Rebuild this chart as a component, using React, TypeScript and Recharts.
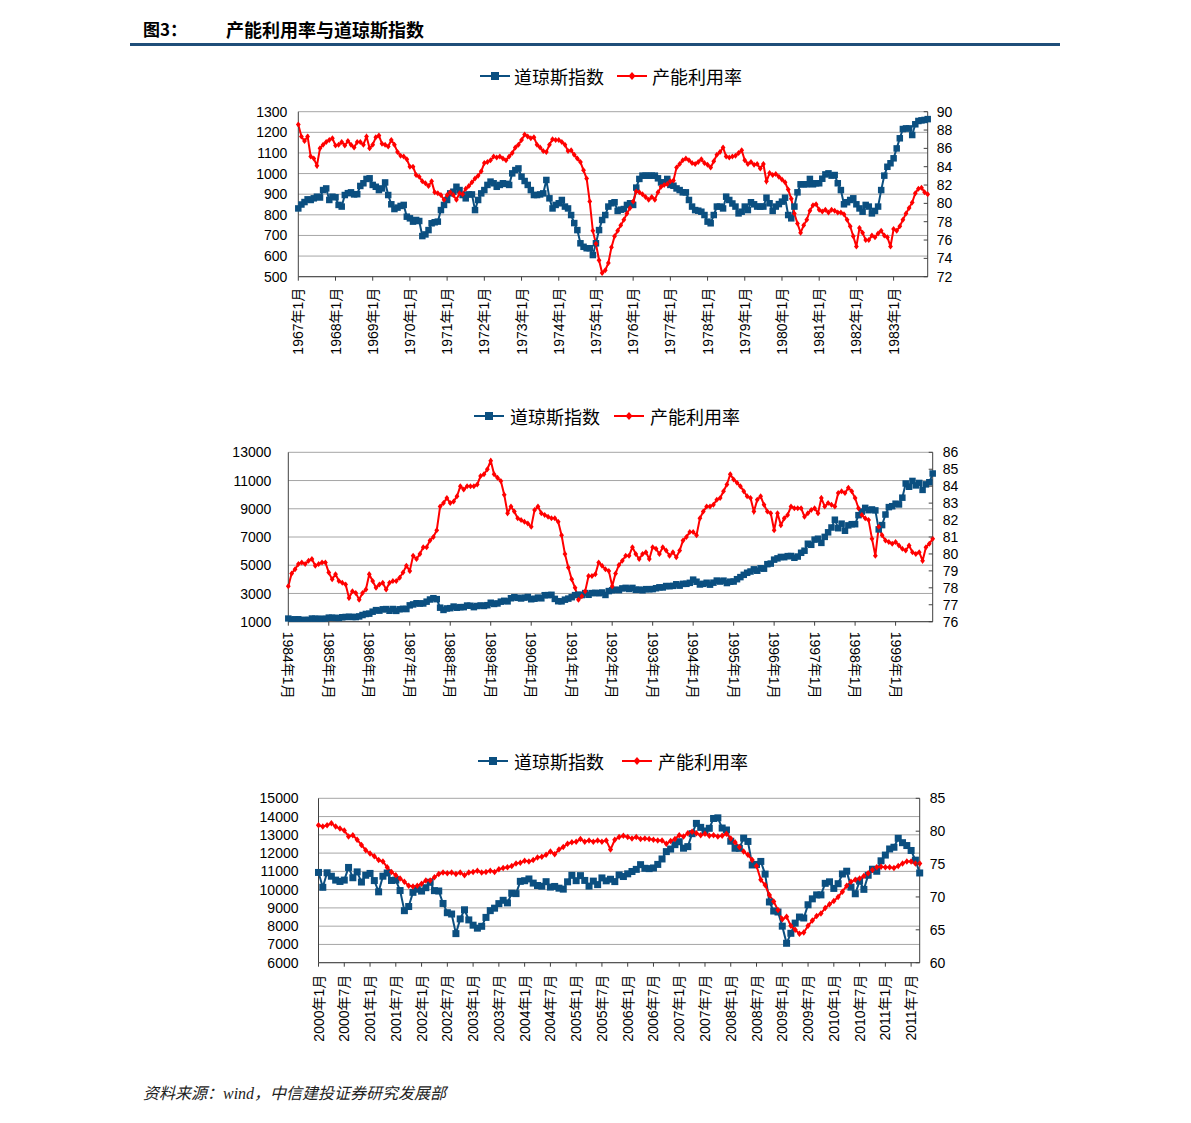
import React from 'react';
import { LineChart, Line, XAxis, YAxis, CartesianGrid } from 'recharts';

const BLUE = '#0B4F80';
const RED = '#FF0000';
const AXIS = '#404040';
const GRID = '#A6A6A6';
const NUM_FONT = "'Liberation Sans', Arial, 'Noto Sans CJK SC', sans-serif";
const CJK_FONT = "'Noto Sans CJK SC', 'Liberation Sans', sans-serif";

// ---------- Panel 1: 1967-01 .. 1983-12 ----------
const djia1967 = [
  831, 850, 862, 875, 872, 880, 888, 884, 920, 928, 872, 888,
  885, 848, 840, 896, 905, 909, 899, 900, 940, 953, 974, 977,
  945, 936, 920, 928, 957, 896, 851, 828, 835, 843, 848, 791,
  783, 767, 775, 770, 697, 705, 726, 759, 764, 767, 823, 848,
  872, 904, 912, 936, 920, 896, 880, 899, 899, 823, 872, 904,
  920, 945, 961, 953, 936, 945, 953, 950, 945, 1001, 1017, 1025,
  985, 964, 945, 920, 896, 896, 899, 904, 969, 880, 831, 848,
  856, 872, 840, 831, 799, 760, 726, 662, 645, 638, 638, 605,
  662, 726, 775, 799, 840, 856, 861, 819, 825, 828, 848, 856,
  848, 932, 974, 990, 990, 990, 990, 990, 977, 957, 957, 974,
  945, 941, 928, 920, 909, 909, 872, 840, 823, 820, 815, 799,
  767, 759, 799, 840, 840, 831, 888, 872, 855, 840, 807, 815,
  840, 823, 861, 851, 840, 840, 840, 883, 856, 819, 840, 852,
  864, 883, 799, 783, 840, 909, 948, 948, 948, 974, 948, 953,
  953, 975, 996, 1001, 990, 993, 953, 920, 851, 861, 872, 880,
  851, 831, 815, 848, 840, 807, 819, 840, 920, 990, 1033, 1050,
  1074, 1122, 1171, 1216, 1219, 1219, 1187, 1239, 1255, 1258, 1260, 1264,
];
const cu1967 = [
  88.6, 87.3, 86.8, 87.3, 85.1, 84.9, 84.1, 86.0, 86.4, 86.7, 86.9, 87.1,
  86.3, 86.4, 86.7, 86.3, 86.8, 86.4, 86.1, 86.7, 86.7, 86.4, 87.3, 86.0,
  86.4, 87.2, 87.4, 86.5, 86.4, 86.2, 86.9, 86.4, 85.6, 85.2, 85.1, 84.8,
  84.0, 84.0, 83.1, 82.9, 82.4, 82.2, 81.9, 82.4, 81.2, 81.1, 80.9, 80.4,
  80.9, 81.2, 80.9, 80.4, 81.1, 81.0, 81.6, 81.9, 82.3, 82.7, 83.0, 83.5,
  84.4, 84.5, 84.7, 85.1, 85.0, 85.1, 84.9, 84.7, 85.1, 85.5, 86.1, 86.4,
  86.9, 87.5, 87.3, 87.1, 87.2, 86.4, 86.1, 85.7, 85.6, 86.4, 87.0, 86.9,
  86.9, 86.7, 86.4, 85.7, 85.8, 85.3, 84.9, 84.5, 83.6, 82.7, 80.2, 77.0,
  75.6, 73.8, 72.4, 72.7, 73.5, 75.2, 76.4, 77.0, 77.6, 78.2, 78.9, 79.5,
  80.2, 81.3, 81.2, 81.0, 80.7, 80.4, 80.7, 80.4, 81.2, 81.8, 82.0, 82.1,
  82.4, 82.5, 83.9, 84.3, 84.7, 84.9, 84.7, 84.4, 84.3, 84.5, 84.8, 84.4,
  84.2, 83.9, 84.6, 85.3, 85.6, 86.1, 85.1, 85.0, 85.1, 85.2, 85.5, 85.8,
  84.7, 84.3, 84.5, 84.2, 84.3, 83.8, 84.3, 82.4, 83.3, 83.1, 83.2, 82.9,
  82.6, 82.3, 81.5, 80.5, 78.9, 77.8, 76.8, 77.6, 78.2, 79.2, 79.8, 79.9,
  79.3, 79.1, 79.3, 79.0, 79.3, 79.2, 79.0, 79.0, 78.8, 78.2, 77.5, 76.4,
  75.3, 77.3, 76.8, 76.0, 76.0, 76.5, 76.3, 76.7, 77.0, 76.5, 76.3, 75.3,
  77.2, 77.0, 77.5, 78.2, 78.9, 79.5, 80.1, 81.1, 81.6, 81.7, 81.2, 81.0,
];
const labels1967 = [
  '1967年1月', '1968年1月', '1969年1月', '1970年1月', '1971年1月', '1972年1月',
  '1973年1月', '1974年1月', '1975年1月', '1976年1月', '1977年1月', '1978年1月',
  '1979年1月', '1980年1月', '1981年1月', '1982年1月', '1983年1月',
];
const leftTicks1 = [500, 600, 700, 800, 900, 1000, 1100, 1200, 1300];
const rightTicks1 = [72, 74, 76, 78, 80, 82, 84, 86, 88, 90];

// ---------- Panel 2: 1984-01 .. 1999-12 ----------
const djia1984 = [
  1220, 1155, 1165, 1171, 1105, 1132, 1115, 1224, 1207, 1207, 1189, 1212,
  1287, 1284, 1267, 1258, 1315, 1335, 1347, 1334, 1329, 1374, 1472, 1547,
  1571, 1709, 1819, 1784, 1877, 1893, 1775, 1898, 1768, 1878, 1914, 1896,
  2158, 2224, 2305, 2286, 2292, 2419, 2572, 2663, 2596, 1994, 1834, 1939,
  1958, 2072, 1988, 2032, 2031, 2142, 2129, 2032, 2113, 2149, 2115, 2169,
  2342, 2258, 2294, 2419, 2480, 2440, 2661, 2737, 2693, 2645, 2706, 2753,
  2591, 2627, 2707, 2657, 2877, 2881, 2905, 2615, 2453, 2442, 2560, 2634,
  2736, 2882, 2914, 2888, 3028, 2907, 3025, 3044, 3017, 3069, 2895, 3169,
  3224, 3267, 3236, 3359, 3397, 3319, 3394, 3257, 3272, 3226, 3305, 3301,
  3310, 3371, 3436, 3428, 3527, 3516, 3540, 3651, 3555, 3681, 3684, 3754,
  3978, 3832, 3636, 3682, 3758, 3625, 3765, 3913, 3843, 3908, 3739, 3834,
  3844, 4011, 4158, 4321, 4465, 4556, 4709, 4611, 4789, 4756, 5075, 5117,
  5395, 5486, 5588, 5569, 5644, 5655, 5529, 5616, 5882, 6029, 6522, 6448,
  6813, 6878, 6584, 7009, 7331, 7673, 8223, 7622, 7945, 7442, 7823, 7908,
  7907, 8546, 8800, 9063, 8900, 8952, 8883, 7539, 7843, 8592, 9117, 9181,
  9359, 9307, 9786, 10789, 10560, 10971, 10655, 10829, 10337, 10729, 10878, 11497,
];
const cu1984 = [
  78.1, 78.85, 79.1, 79.4, 79.5, 79.4, 79.6, 79.7, 79.3, 79.4, 79.5, 79.5,
  78.9, 78.5, 78.8, 78.4, 78.3, 78.2, 77.4, 77.8, 77.7, 77.3, 77.7, 77.9,
  78.8, 78.4, 78.0, 78.2, 78.3, 77.9, 78.3, 78.4, 78.4, 78.6, 78.9, 79.3,
  79.0, 79.9, 79.7, 80.0, 80.4, 80.4, 80.8, 81.0, 81.4, 82.8, 83.0, 83.3,
  83.0, 83.1, 83.4, 84.0, 83.8, 84.0, 84.0, 84.0, 84.1, 84.6, 84.7, 85.0,
  85.5, 84.7, 84.5, 84.3, 83.5, 82.4, 82.8, 82.5, 82.1, 82.0, 81.9, 81.8,
  81.6, 82.6, 82.8, 82.4, 82.3, 82.2, 82.1, 82.1, 81.9, 81.1, 80.0, 79.2,
  78.5, 78.0, 77.3, 77.5, 77.8, 78.7, 78.7, 78.8, 79.5, 79.3, 79.1, 79.0,
  78.1, 78.85, 79.35, 79.6, 79.9, 79.9, 80.4, 80.0, 79.7, 80.0, 80.1, 79.7,
  80.4, 80.3, 80.0, 80.4, 80.2, 79.9, 80.1, 79.8, 80.2, 80.8, 81.0, 81.3,
  81.3, 81.1, 82.1, 82.5, 82.8, 82.8, 82.9, 83.2, 83.3, 83.7, 84.1, 84.7,
  84.4, 84.2, 84.0, 83.7, 83.4, 83.3, 82.5, 83.2, 83.4, 82.9, 82.5, 82.4,
  81.4, 82.4, 81.7, 82.1, 82.3, 82.8, 82.7, 82.7, 82.7, 82.2, 82.4, 82.6,
  82.7, 82.4, 83.3, 82.8, 83.0, 82.9, 82.8, 83.6, 83.7, 83.6, 83.9, 83.7,
  83.3, 82.7, 82.3, 82.1, 82.0, 80.9, 79.9, 81.6, 81.1, 80.8, 80.7, 80.6,
  80.7, 80.5, 80.3, 80.2, 80.5, 80.1, 80.0, 80.1, 79.6, 80.4, 80.6, 80.9,
];
const labels1984 = [
  '1984年1月', '1985年1月', '1986年1月', '1987年1月', '1988年1月', '1989年1月',
  '1990年1月', '1991年1月', '1992年1月', '1993年1月', '1994年1月', '1995年1月',
  '1996年1月', '1997年1月', '1998年1月', '1999年1月',
];
const leftTicks2 = [1000, 3000, 5000, 7000, 9000, 11000, 13000];
const rightTicks2 = [76, 77, 78, 79, 80, 81, 82, 83, 84, 85, 86];

// ---------- Panel 3: 2000-01 .. 2011-09 ----------
const djia2000 = [
  10941, 10128, 10922, 10734, 10522, 10448, 10522, 11215, 10651, 10971, 10415, 10788,
  10887, 10495, 9879, 10735, 10912, 10502, 10523, 9950, 8848, 9075, 9852, 10022,
  9920, 10106, 10404, 9946, 9925, 9243, 8737, 8664, 7592, 8397, 8896, 8342,
  8054, 7891, 7992, 8480, 8850, 8985, 9234, 9416, 9275, 9801, 9782, 10454,
  10488, 10584, 10358, 10226, 10188, 10435, 10140, 10174, 10080, 10027, 10428, 10783,
  10490, 10766, 10504, 10193, 10467, 10275, 10641, 10482, 10569, 10440, 10806, 10718,
  10865, 10993, 11109, 11367, 11168, 11150, 11186, 11381, 11679, 12081, 12222, 12463,
  12622, 12269, 12354, 13063, 13628, 13409, 13212, 13358, 13896, 13930, 13372, 13265,
  12650, 12266, 12263, 12820, 12638, 11350, 11378, 11544, 10851, 9325, 8829, 8776,
  8001, 7063, 7609, 8168, 8500, 8447, 9172, 9496, 9712, 9713, 10345, 10428,
  10067, 10325, 10857, 11009, 10137, 9774, 10466, 10015, 10788, 11118, 11006, 11578,
  11892, 12226, 12320, 12811, 12570, 12414, 12143, 11614, 10913,
];
const cu2000 = [
  80.9, 80.7, 80.9, 81.2, 80.7, 80.4, 80.1, 79.2, 79.4, 78.7, 77.9, 77.1,
  76.6, 76.2, 75.6, 75.4, 74.5, 73.8, 73.3, 72.8, 72.3, 71.7, 71.6, 71.7,
  72.0, 72.5, 72.5, 73.0, 73.5, 73.7, 73.6, 73.7, 73.5, 73.7, 73.3, 73.7,
  73.8, 74.0, 73.7, 73.8, 74.0, 73.8, 74.2, 74.4, 74.5, 74.7, 75.1, 75.2,
  75.5, 75.4, 75.6, 76.0, 76.1, 76.4, 76.9, 76.5, 77.2, 77.6, 78.1, 78.3,
  78.4, 78.8, 78.4, 78.6, 78.4, 78.6, 78.4, 78.6, 77.2, 78.7, 79.1, 79.3,
  79.1, 78.9, 79.1, 78.8, 78.9, 78.8, 78.7, 78.6, 78.6, 78.1, 78.5, 78.8,
  79.4, 79.2, 79.7, 79.9, 79.7, 79.4, 79.6, 79.3, 79.4, 79.2, 79.3, 79.6,
  78.9, 78.3, 77.6, 76.9, 76.4, 75.6, 74.7, 72.6, 71.8, 70.3, 69.3, 68.0,
  66.6, 67.0, 65.6, 65.0, 64.4, 64.6, 65.6, 66.4, 67.1, 67.5, 68.3, 68.9,
  69.4, 70.0, 70.8, 71.7, 72.3, 72.6, 72.8, 73.2, 73.6, 74.1, 74.5, 74.6,
  74.5, 74.5, 74.4, 74.7, 75.1, 75.4, 75.4, 75.1, 75.1,
];
const labels2000 = [
  '2000年1月', '2000年7月', '2001年1月', '2001年7月', '2002年1月', '2002年7月',
  '2003年1月', '2003年7月', '2004年1月', '2004年7月', '2005年1月', '2005年7月',
  '2006年1月', '2006年7月', '2007年1月', '2007年7月', '2008年1月', '2008年7月',
  '2009年1月', '2009年7月', '2010年1月', '2010年7月', '2011年1月', '2011年7月',
];
const leftTicks3 = [6000, 7000, 8000, 9000, 10000, 11000, 12000, 13000, 14000, 15000];
const rightTicks3 = [60, 65, 70, 75, 80, 85];

const SERIES_DJ = '道琼斯指数';
const SERIES_CU = '产能利用率';

type PanelCfg = {
  left: number; top: number; width: number; height: number;
  margin: { top: number; right: number; bottom: number; left: number };
  dj: number[]; cu: number[];
  leftTicks: number[]; rightTicks: number[];
  tickStep: number; labels: string[]; labelDir: 1 | -1;
  xAxisHeight: number; leftGap: number; rightGap: number; xGap: number;
  sq: number; dm: number;
};

function Panel({ cfg }: { cfg: PanelCfg }) {
  const data = cfg.dj.map((v, i) => ({ i, dj: v, cu: cfg.cu[i] }));
  const n = data.length;
  const xTicks = cfg.labels.map((_, k) => k * cfg.tickStep);
  const lt = cfg.leftTicks;
  const rt = cfg.rightTicks;

  const renderXTick = (t: any) => {
    const idx = Math.round(t.payload.value / cfg.tickStep);
    const label = cfg.labels[idx] ?? '';
    const x = t.x;
    const y = t.y;
    if (cfg.labelDir < 0) {
      return (
        <text key={`x${idx}`} x={x} y={y} transform={`rotate(-90 ${x} ${y})`} textAnchor="end" dy="0.36em"
          fontSize={14} fontFamily={NUM_FONT} fill="#000">{label}</text>
      );
    }
    return (
      <text key={`x${idx}`} x={x} y={y} transform={`rotate(90 ${x} ${y})`} textAnchor="start" dy="0.36em"
        fontSize={14} fontFamily={NUM_FONT} fill="#000">{label}</text>
    );
  };
  const renderLeftTick = (t: any) => (
    <text key={`l${t.payload.value}`} x={t.x - cfg.leftGap} y={t.y} textAnchor="end" dy="0.36em"
      fontSize={14} fontFamily={NUM_FONT} fill="#000">{t.payload.value}</text>
  );
  const renderRightTick = (t: any) => (
    <g key={`r${t.payload.value}`}>
      <line x1={t.x - 4} x2={t.x} y1={t.y} y2={t.y} stroke={AXIS} strokeWidth={1} />
      <text x={t.x + cfg.rightGap} y={t.y} textAnchor="start" dy="0.36em"
        fontSize={14} fontFamily={NUM_FONT} fill="#000">{t.payload.value}</text>
    </g>
  );
  const sqDot = (p: any) => {
    const s = cfg.sq;
    return <rect key={`s${p.index}`} x={p.cx - s / 2} y={p.cy - s / 2} width={s} height={s} fill={BLUE} />;
  };
  const dmDot = (p: any) => {
    const h = cfg.dm / 2;
    const { cx, cy } = p;
    return <path key={`d${p.index}`} d={`M${cx},${cy - h}L${cx + h * 0.8},${cy}L${cx},${cy + h}L${cx - h * 0.8},${cy}Z`} fill={RED} />;
  };

  return (
    <div style={{ position: 'absolute', left: cfg.left, top: cfg.top }}>
      <LineChart width={cfg.width} height={cfg.height} data={data} margin={cfg.margin}>
        <CartesianGrid vertical={false} yAxisId="left" stroke={GRID} strokeWidth={1} />
        <XAxis type="number" dataKey="i" domain={[0, n - 1]} ticks={xTicks} interval={0}
          height={cfg.xAxisHeight} tickSize={4} tickMargin={cfg.xGap - 4}
          tickLine={{ stroke: AXIS }} axisLine={{ stroke: AXIS }} tick={renderXTick} />
        <YAxis yAxisId="left" orientation="left" width={60} domain={[lt[0], lt[lt.length - 1]]}
          ticks={lt} interval={0} tickLine={false} tickSize={0} tickMargin={0}
          axisLine={{ stroke: AXIS }} tick={renderLeftTick} allowDataOverflow />
        <YAxis yAxisId="right" orientation="right" width={50} domain={[rt[0], rt[rt.length - 1]]}
          ticks={rt} interval={0} tickLine={false} tickSize={0} tickMargin={0}
          axisLine={{ stroke: AXIS }} tick={renderRightTick} allowDataOverflow />
        <Line yAxisId="left" type="linear" dataKey="dj" name={SERIES_DJ} stroke={BLUE} strokeWidth={2}
          dot={sqDot} activeDot={false} isAnimationActive={false} />
        <Line yAxisId="right" type="linear" dataKey="cu" name={SERIES_CU} stroke={RED} strokeWidth={2}
          dot={dmDot} activeDot={false} isAnimationActive={false} />
      </LineChart>
    </div>
  );
}

type LegendPos = { y: number; bl: number; bt: number; rl: number; rt: number };

function ChartLegend({ pos }: { pos: LegendPos }) {
  const txt: React.CSSProperties = {
    position: 'absolute', top: pos.y - 13, height: 26, lineHeight: '26px',
    fontSize: 18, fontFamily: CJK_FONT, color: '#000', whiteSpace: 'nowrap',
  };
  return (
    <>
      <svg style={{ position: 'absolute', left: pos.bl, top: pos.y - 6 }} width={30} height={12}>
        <line x1={0} y1={6} x2={30} y2={6} stroke={BLUE} strokeWidth={2} />
        <rect x={11} y={2} width={8} height={8} fill={BLUE} />
      </svg>
      <div style={{ ...txt, left: pos.bt }}>{SERIES_DJ}</div>
      <svg style={{ position: 'absolute', left: pos.rl, top: pos.y - 6 }} width={30} height={12}>
        <line x1={0} y1={6} x2={30} y2={6} stroke={RED} strokeWidth={2} />
        <path d="M15,2L18.5,6L15,10L11.5,6Z" fill={RED} />
      </svg>
      <div style={{ ...txt, left: pos.rt }}>{SERIES_CU}</div>
    </>
  );
}

const panel1: PanelCfg = {
  left: 200, top: 100, width: 800, height: 270,
  margin: { top: 11.7, right: 22.3, bottom: 13.3, left: 38.3 },
  dj: djia1967, cu: cu1967, leftTicks: leftTicks1, rightTicks: rightTicks1,
  tickStep: 12, labels: labels1967, labelDir: -1,
  xAxisHeight: 80, leftGap: 11, rightGap: 9, xGap: 11, sq: 6.5, dm: 6,
};
const panel2: PanelCfg = {
  left: 200, top: 440, width: 800, height: 280,
  margin: { top: 12.3, right: 17.3, bottom: 13.3, left: 28.3 },
  dj: djia1984, cu: cu1984, leftTicks: leftTicks2, rightTicks: rightTicks2,
  tickStep: 12, labels: labels1984, labelDir: 1,
  xAxisHeight: 85, leftGap: 17, rightGap: 10, xGap: 10, sq: 6.5, dm: 6,
};
const panel3: PanelCfg = {
  left: 200, top: 785, width: 800, height: 280,
  margin: { top: 13.3, right: 30.3, bottom: 12.3, left: 58.5 },
  dj: djia2000, cu: cu2000, leftTicks: leftTicks3, rightTicks: rightTicks3,
  tickStep: 6, labels: labels2000, labelDir: -1,
  xAxisHeight: 90, leftGap: 20, rightGap: 10, xGap: 12, sq: 7, dm: 6.5,
};

export default function App() {
  return (
    <div style={{ position: 'absolute', left: 0, top: 0, width: 1191, height: 1123, background: '#fff' }}>
      <div style={{ position: 'absolute', left: 143, top: 17, height: 24, lineHeight: '24px', fontSize: 17,
        fontWeight: 700, fontFamily: CJK_FONT, color: '#000' }}>图3：</div>
      <div style={{ position: 'absolute', left: 226, top: 17, height: 24, lineHeight: '24px', fontSize: 18,
        fontWeight: 700, fontFamily: CJK_FONT, color: '#000', whiteSpace: 'nowrap' }}>产能利用率与道琼斯指数</div>
      <div style={{ position: 'absolute', left: 130, top: 43, width: 930, height: 3, background: '#1F4E79' }} />

      <ChartLegend pos={{ y: 76, bl: 480, bt: 514, rl: 617, rt: 652 }} />
      <Panel cfg={panel1} />
      <ChartLegend pos={{ y: 416, bl: 474, bt: 510, rl: 614, rt: 650 }} />
      <Panel cfg={panel2} />
      <ChartLegend pos={{ y: 761, bl: 478, bt: 514, rl: 622, rt: 658 }} />
      <Panel cfg={panel3} />

      <div style={{ position: 'absolute', left: 143, top: 1082, height: 24, lineHeight: '24px', fontSize: 16,
        fontStyle: 'italic', fontFamily: "'Liberation Serif', 'Noto Sans CJK SC', serif", color: '#222',
        whiteSpace: 'nowrap' }}>资料来源：wind，中信建投证券研究发展部</div>
    </div>
  );
}
